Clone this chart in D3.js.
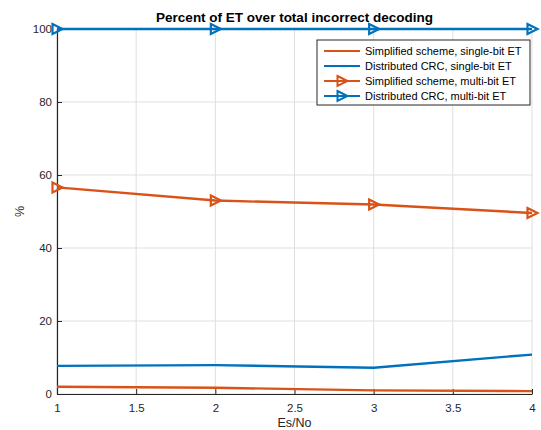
<!DOCTYPE html>
<html>
<head>
<meta charset="utf-8">
<script src="https://cdn.jsdelivr.net/npm/d3@7"></script>
<style>
  body { margin: 0; background: #fff; }
  svg { font-family: "Liberation Sans", Arial, Helvetica, sans-serif; }
</style>
</head>
<body>
<div id="chart"></div>
<script>
// data
const esNo = [1, 2, 3, 4];
const simpleSingle = [2.0, 1.7, 1.0, 0.8];
const distSingle = [7.7, 7.9, 7.2, 10.8];
const simpleMulti = [56.6, 53.0, 51.9, 49.6];
const distMulti = [100, 100, 100, 100];
const xTicks = [1, 1.5, 2, 2.5, 3, 3.5, 4];
const yTicks = [0, 20, 40, 60, 80, 100];
const seriesNames = [
  "Simplified scheme, single-bit ET",
  "Distributed CRC, single-bit ET",
  "Simplified scheme, multi-bit ET",
  "Distributed CRC, multi-bit ET"
];

const orange = "#D95319", blue = "#0072BD";
const series = [
  {name: seriesNames[0], values: simpleSingle, color: orange, marker: false},
  {name: seriesNames[1], values: distSingle, color: blue, marker: false},
  {name: seriesNames[2], values: simpleMulti, color: orange, marker: true},
  {name: seriesNames[3], values: distMulti, color: blue, marker: true}
];

// dimensions and margins
const W = 541, H = 430;
const margin = {top: 29, right: 9, bottom: 36, left: 57},
  width = W - margin.left - margin.right,
  height = H - margin.top - margin.bottom;

const root = d3.select("#chart").append("svg")
  .attr("width", W)
  .attr("height", H);

const svg = root.append("g")
  .attr("transform", "translate(" + margin.left + "," + margin.top + ")");

const x = d3.scaleLinear().domain([1, 4]).range([0, width]);
const y = d3.scaleLinear().domain([0, 100]).range([height, 0]);

// grid
svg.append("g")
  .selectAll("line.vg")
  .data(xTicks)
  .join("line")
  .attr("x1", d => x(d)).attr("x2", d => x(d))
  .attr("y1", 0).attr("y2", height)
  .attr("stroke", "#dfdfdf").attr("stroke-width", 1);
svg.append("g")
  .selectAll("line.hg")
  .data(yTicks)
  .join("line")
  .attr("x1", 0).attr("x2", width)
  .attr("y1", d => y(d)).attr("y2", d => y(d))
  .attr("stroke", "#dfdfdf").attr("stroke-width", 1);

// axes (inward ticks)
const xAxis = svg.append("g")
  .attr("transform", "translate(0," + height + ")")
  .call(d3.axisBottom(x).tickValues(xTicks).tickFormat(d3.format("")).tickSizeInner(-5).tickSizeOuter(0).tickPadding(10));
const yAxis = svg.append("g")
  .call(d3.axisLeft(y).tickValues(yTicks).tickSizeInner(-5).tickSizeOuter(0).tickPadding(5));
[xAxis, yAxis].forEach(a => {
  a.selectAll("path, line").attr("stroke", "#262626");
  a.selectAll("text").attr("fill", "#262626").style("font-size", "11.5px");
  a.select(".domain").attr("stroke-width", 1.2);
});

// lines
const line = d3.line()
  .x((d, i) => x(esNo[i]))
  .y(d => y(d));

const tri = "M-4.5,-5L5.5,0L-4.5,5Z";

series.forEach(s => {
  svg.append("path")
    .datum(s.values)
    .attr("fill", "none")
    .attr("stroke", s.color)
    .attr("stroke-width", 2.4)
    .attr("d", line);
  if (s.marker) {
    svg.append("g")
      .selectAll("path")
      .data(s.values)
      .join("path")
      .attr("transform", (d, i) => "translate(" + x(esNo[i]) + "," + y(d) + ")")
      .attr("d", tri)
      .attr("fill", "none")
      .attr("stroke", s.color)
      .attr("stroke-width", 2.2);
  }
});

// title and labels
root.append("text")
  .attr("x", margin.left + width / 2)
  .attr("y", 22)
  .attr("text-anchor", "middle")
  .style("font-size", "13.5px")
  .style("font-weight", "bold")
  .attr("fill", "#000")
  .text("Percent of ET over total incorrect decoding");

root.append("text")
  .attr("x", margin.left + width / 2)
  .attr("y", 427)
  .attr("text-anchor", "middle")
  .style("font-size", "12.5px")
  .attr("fill", "#262626")
  .text("Es/No");

root.append("text")
  .attr("transform", "translate(24," + (margin.top + height / 2) + ") rotate(-90)")
  .attr("text-anchor", "middle")
  .style("font-size", "12.5px")
  .attr("fill", "#262626")
  .text("%");

// legend
const lg = root.append("g").attr("transform", "translate(317,40)");
lg.append("rect")
  .attr("width", 213).attr("height", 65)
  .attr("fill", "#fff")
  .attr("stroke", "#262626").attr("stroke-width", 1);
series.forEach((s, i) => {
  const yy = 11 + i * 15;
  lg.append("line")
    .attr("x1", 7).attr("x2", 43)
    .attr("y1", yy).attr("y2", yy)
    .attr("stroke", s.color).attr("stroke-width", 2.2);
  if (s.marker) {
    lg.append("path")
      .attr("transform", "translate(25," + yy + ")")
      .attr("d", tri)
      .attr("fill", "none")
      .attr("stroke", s.color).attr("stroke-width", 2);
  }
  lg.append("text")
    .attr("x", 48).attr("y", yy + 4)
    .style("font-size", "11px")
    .attr("fill", "#000")
    .text(s.name);
});
</script>
</body>
</html>
